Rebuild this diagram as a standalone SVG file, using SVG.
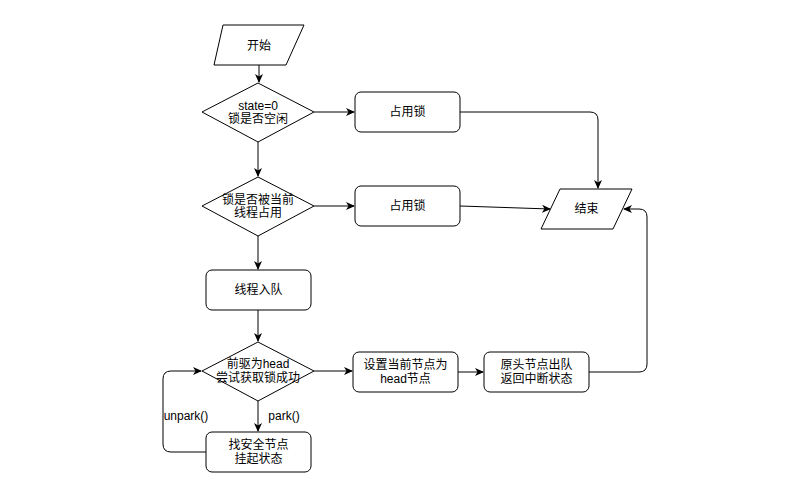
<svg xmlns="http://www.w3.org/2000/svg" width="786" height="493" viewBox="0 0 786 493">
<style>
.s{fill:#fff;stroke:#000;stroke-width:1}
.c{fill:none;stroke:#000;stroke-width:1}
text{font-family:"Liberation Sans","Noto Sans CJK SC",sans-serif;font-size:12px;fill:#000;text-anchor:middle}
</style>
<defs>
<marker id="a" markerWidth="10" markerHeight="10" refX="8" refY="4" orient="auto" markerUnits="userSpaceOnUse">
<path d="M0,0 L9,4 L0,8 L2.5,4 z" fill="#000"/>
</marker>
</defs>
<rect width="786" height="493" fill="#fff"/>
<g id="connectors">
<path class="c" d="M259,65 V82" marker-end="url(#a)"/>
<path class="c" d="M314,112 H354" marker-end="url(#a)"/>
<path class="c" d="M258,142 V176" marker-end="url(#a)"/>
<path class="c" d="M460,112 H590 Q598,112 598,120 V188" marker-end="url(#a)"/>
<path class="c" d="M314,206 H354" marker-end="url(#a)"/>
<path class="c" d="M460,206 L550,209" marker-end="url(#a)"/>
<path class="c" d="M258,236 V269" marker-end="url(#a)"/>
<path class="c" d="M258,310 V341" marker-end="url(#a)"/>
<path class="c" d="M314,371 H352" marker-end="url(#a)"/>
<path class="c" d="M458,372 H483" marker-end="url(#a)"/>
<path class="c" d="M589,372 H639 Q647,372 647,364 V217 Q647,209 639,209 H624" marker-end="url(#a)"/>
<path class="c" d="M258,401 V431" marker-end="url(#a)"/>
<path class="c" d="M206,452 H171 Q163,452 163,444 V379 Q163,371 171,371 H201" marker-end="url(#a)"/>
<text x="186" y="420">unpark()</text>
<text x="284" y="420">park()</text>
</g>
<g id="start">
<path class="s" d="M223,25 H304 L286,65 H214 Z"/>
<text x="259" y="50">开始</text>
</g>
<g id="d1">
<path class="s" d="M258,83 L314,112 L258,142 L202,112 Z"/>
<text x="258" y="110">state=0</text>
<text x="258" y="123">锁是否空闲</text>
</g>
<g id="b1">
<rect class="s" x="355" y="92" width="105" height="40" rx="6"/>
<text x="407.5" y="116">占用锁</text>
</g>
<g id="d2">
<path class="s" d="M258,177 L314,206 L258,236 L202,206 Z"/>
<text x="258" y="204">锁是否被当前</text>
<text x="258" y="217">线程占用</text>
</g>
<g id="b2">
<rect class="s" x="355" y="186" width="105" height="40" rx="6"/>
<text x="407.5" y="210">占用锁</text>
</g>
<g id="end">
<path class="s" d="M560,189 H632 L613,229 H541 Z"/>
<text x="586.5" y="213">结束</text>
</g>
<g id="enqueue">
<rect class="s" x="206" y="270" width="105" height="40" rx="6"/>
<text x="258.5" y="294">线程入队</text>
</g>
<g id="d3">
<path class="s" d="M258,342 L314,371 L258,401 L202,371 Z"/>
<text x="258" y="368">前驱为head</text>
<text x="258" y="382">尝试获取锁成功</text>
</g>
<g id="sethead">
<rect class="s" x="353" y="352" width="105" height="40" rx="6"/>
<text x="405.5" y="369">设置当前节点为</text>
<text x="405.5" y="383">head节点</text>
</g>
<g id="dequeue">
<rect class="s" x="484" y="352" width="105" height="40" rx="6"/>
<text x="536.5" y="369">原头节点出队</text>
<text x="536.5" y="383">返回中断状态</text>
</g>
<g id="park">
<rect class="s" x="206" y="432" width="105" height="40" rx="6"/>
<text x="258.5" y="449">找安全节点</text>
<text x="258.5" y="463">挂起状态</text>
</g>
</svg>
